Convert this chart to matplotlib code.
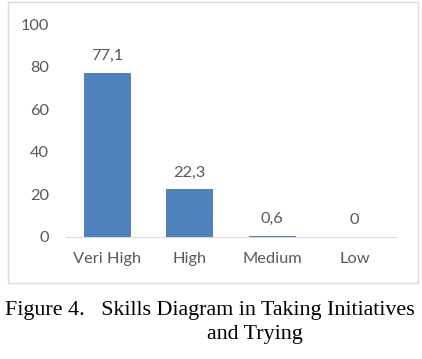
import matplotlib.pyplot as plt
from matplotlib.patches import Rectangle

categories = ['Veri High', 'High', 'Medium', 'Low']
values = [77.1, 22.3, 0.6, 0.0]
value_labels = ['77,1', '22,3', '0,6', '0']
yticks = [0, 20, 40, 60, 80, 100]
caption_line1 = 'Figure 4.   Skills Diagram in Taking Initiatives'
caption_line2 = 'and Trying'

text_color = '#595959'
bar_color = '#4F81BD'

fig = plt.figure(figsize=(4.22, 3.59), dpi=100)

# rahmen um das diagramm
fig.patches.append(Rectangle((0.019, 0.212), 0.971, 0.782, transform=fig.transFigure,
                             fill=False, edgecolor='#D9D9D9', linewidth=1))

ax = fig.add_axes([0.156, 0.34, 0.782, 0.593])
x = range(len(categories))
ax.bar(x, values, width=0.57, color=bar_color)
ax.set_xlim(-0.5, len(categories) - 0.5)
ax.set_ylim(0, 100)
ax.set_yticks(yticks)
ax.set_xticks(list(x))
ax.set_xticklabels(categories)

for i, v in enumerate(values):
    ax.annotate(value_labels[i], (i, v), xytext=(0, 7), textcoords='offset points',
                ha='center', va='bottom', fontsize=11.8, color=text_color, family='Lato')

for s in ['top', 'right', 'left']:
    ax.spines[s].set_visible(False)
ax.spines['bottom'].set_color('#D9D9D9')
ax.tick_params(axis='both', length=0, labelsize=11.8, labelcolor=text_color)
ax.tick_params(axis='y', pad=12)
ax.tick_params(axis='x', pad=11)
for lbl in ax.get_xticklabels() + ax.get_yticklabels():
    lbl.set_family('Lato')

fig.text(0.497, 0.136, caption_line1, ha='center', va='center', fontsize=15.8,
         family='Liberation Serif', color='black')
fig.text(0.604, 0.067, caption_line2, ha='center', va='center', fontsize=15.8,
         family='Liberation Serif', color='black')

fig.savefig('out.png', dpi=100)
